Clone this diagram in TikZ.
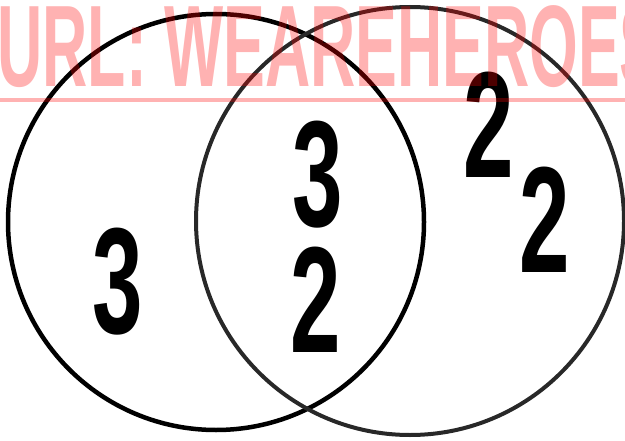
\documentclass[tikz,border=0pt]{standalone}
\usepackage{fontspec}
\newfontfamily\digitfont{Liberation Sans}[FakeStretch=0.6]
\newfontfamily\markfont{Liberation Sans}[FakeStretch=0.54]

\begin{document}
\begin{tikzpicture}[x=0.02cm, y=0.02cm,
    ring/.style={line width=0.09cm, black},
    count/.style={inner sep=0pt, font=\digitfont\bfseries\fontsize{86}{86}\selectfont}]
    \definecolor{ringgray}{RGB}{40, 40, 40}

    \useasboundingbox (0,0) rectangle (625,440);
    \clip (0,0) rectangle (625,440);

    % The two sets
    \draw[ring] (216,218) circle [radius=208];
    \draw[ring, ringgray, line width=0.08cm] (410,219) circle [radius=214];

    % Counts in each region
    \node[count] (onlyA) at (118,158) {3};
    \node[count] (bothA) at (318,265) {3};
    \node[count] (bothB) at (316,140) {2};
    \node[count] (onlyB1) at (489,315) {2};
    \node[count] (onlyB2) at (545,220) {2};

    % Watermark on top
    \node[anchor=base west, inner sep=0pt, text=red, text opacity=0.3,
        font=\markfont\bfseries\fontsize{66}{66}\selectfont] (mark) at (-3,353) {URL: WEAREHEROES};
    \draw[red, opacity=0.3, line width=0.08cm] (0,340) -- (625,340);

\end{tikzpicture}
\end{document}
